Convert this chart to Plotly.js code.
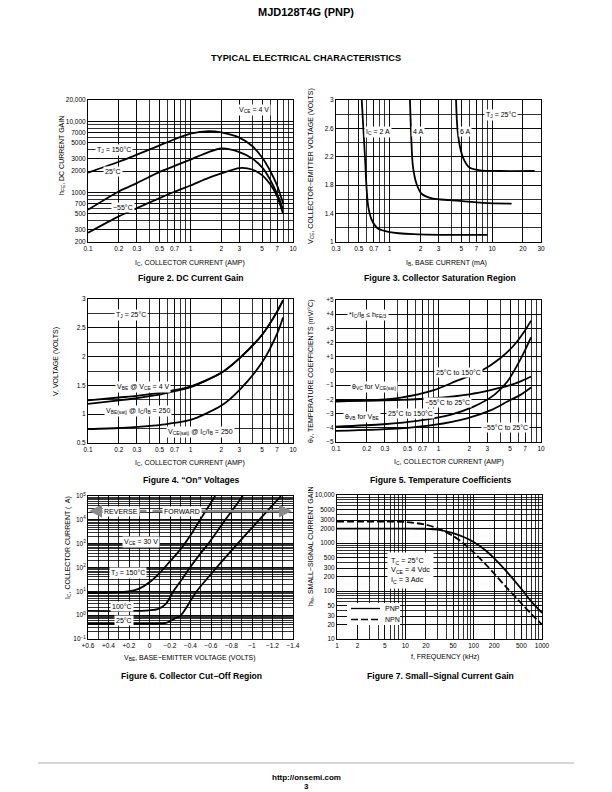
<!DOCTYPE html>
<html><head><meta charset="utf-8">
<script src="https://cdn.plot.ly/plotly-3.0.1.min.js"></script>
<style>html,body{margin:0;padding:0;background:#fff}#chart{width:612px;height:792px}</style>
</head><body><div id="chart"></div>
<script>
// ---------------- DATA ----------------
// Figure 2: DC current gain (hFE vs IC, amps)
const fig2_ic = [0.1,0.2,0.3,0.5,0.7,1,1.5,2,3,4,5,6,7,8];
const fig2_hfe_150 = [1900,2700,3400,4600,5600,6700,7300,7000,5900,4500,3100,2000,1250,700];
const fig2_hfe_25  = [570,1030,1350,1940,2360,2900,3700,4150,3700,3000,2250,1500,950,580];
const fig2_hfe_m55 = [270,460,600,830,1020,1250,1600,1850,2200,2100,1750,1300,880,500];
const fig2_xlabels = [0.1,0.2,0.3,0.5,0.7,1,2,3,5,7,10];
const fig2_ylabels = [200,300,500,700,1000,2000,3000,5000,7000,10000,20000];
const fig2_ytext = ['200','300','500','700','1000','2000','3000','5000','7000','10,000','20,000'];

// Figure 3: collector saturation region (VCE vs IB, mA)
const fig3_ib_2A = [0.535,0.575,0.595,0.62,0.67,0.77,1.0,1.7,3.9,9];
const fig3_vce_2A = [3.0,2.2,1.78,1.49,1.31,1.19,1.14,1.11,1.10,1.10];
const fig3_ib_4A = [1.58,1.63,1.69,1.83,2.05,2.66,3.9,8.2,15.5];
const fig3_vce_4A = [3.0,2.44,2.06,1.82,1.68,1.61,1.59,1.55,1.54];
const fig3_ib_6A = [4.45,4.6,4.95,5.35,6.0,7.6,12,26];
const fig3_vce_6A = [3.0,2.58,2.29,2.15,2.05,2.01,2.0,2.0];
const fig3_xlabels = [0.3,0.5,0.7,1,2,3,5,7,10,20,30];
const fig3_ylabels = [1,1.4,1.8,2.2,2.6,3];

// Figure 4: "On" voltages
const fig4_ic = [0.1,0.2,0.3,0.5,0.7,1,2,3,5,7,8];
const fig4_vbe = [1.24,1.29,1.32,1.37,1.42,1.48,1.72,1.97,2.38,2.78,2.98];
const fig4_vbesat = [1.18,1.24,1.28,1.34,1.40,1.47,1.72,1.97,2.38,2.78,2.98];
const fig4_vcesat = [0.74,0.76,0.78,0.81,0.85,0.9,1.15,1.42,1.9,2.4,2.68];
const fig4_ylabels = [0.5,1,1.5,2,2.5,3];

// Figure 5: temperature coefficients (mV/°C)
const fig5_vc_hot_ic = [0.1,0.2,0.43,0.9,1.5,2.6,4.0,5.5,6.9,8.0];
const fig5_vc_hot = [-2.05,-2.07,-1.87,-1.35,-0.7,0.0,0.9,1.85,2.8,3.55];
const fig5_vc_cold_ic = [0.1,0.43,0.9,2.0,3.3,4.9,6.5,8.0];
const fig5_vc_cold = [-2.15,-2.04,-1.92,-1.64,-1.33,-1.02,-0.69,-0.39];
const fig5_vb_hot_ic = [0.1,0.29,0.62,1.3,2.2,3.5,4.7,5.9,6.9,8.0];
const fig5_vb_hot = [-3.92,-3.75,-3.52,-3.09,-2.51,-1.68,-0.74,0.44,1.38,2.36];
const fig5_vb_cold_ic = [0.1,0.43,0.9,1.9,3.3,4.7,6.3,8.0];
const fig5_vb_cold = [-4.22,-4.04,-3.8,-3.33,-2.74,-2.15,-1.68,-1.16];
const fig5_ylabels = [5,4,3,2,1,0,-1,-2,-3,-4,-5];
const fig5_ytext = ['+5','+4','+3','+2','+1','0','−1','−2','−3','−4','−5'];

// Figure 6: collector cut-off region (IC in µA vs VBE)
const fig6_v_150 = [0.6,0.4,0.2,0.1,0.0,-0.1,-0.2,-0.3,-0.4,-0.5,-0.6,-0.64];
const fig6_i_150 = [8.5,8.7,10,13,24,60,180,560,2240,11200,52500,100000];
const fig6_v_100 = [0.6,0.2,0.0,-0.08,-0.16,-0.233,-0.3,-0.395,-0.5,-0.574,-0.74,-0.91];
const fig6_i_100 = [1.5,1.5,1.6,1.8,3.0,10,25,100,400,1000,10000,100000];
const fig6_v_25 = [0.6,0.2,-0.1,-0.16,-0.24,-0.307,-0.46,-0.655,-0.86,-1.07,-1.283];
const fig6_i_25 = [0.43,0.43,0.44,0.47,0.7,1.0,10,100,1000,10000,100000];
const fig6_xlabels = [0.6,0.4,0.2,0,-0.2,-0.4,-0.6,-0.8,-1,-1.2,-1.4];
const fig6_xtext = ['+0.6','+0.4','+0.2','0','−0.2','−0.4','−0.6','−0.8','−1','−1.2','−1.4'];
const fig6_ylabels = [0.1,1,10,100,1000,10000,100000];
const fig6_ytext = ['10<sup>−1</sup>','10<sup>0</sup>','10<sup>1</sup>','10<sup>2</sup>','10<sup>3</sup>','10<sup>4</sup>','10<sup>5</sup>'];

// Figure 7: small-signal current gain
const fig7_f = [1,2,5,10,20,30,50,70,100,150,200,300,500,700,1000];
const fig7_pnp = [2000,2000,2000,2000,1980,1900,1600,1350,1050,700,480,260,110,60,35];
const fig7_npn = [2800,2800,2800,2750,2400,2000,1400,1000,640,360,230,120,55,33,20];
const fig7_xlabels = [1,2,5,10,20,50,100,200,500,1000];
const fig7_ylabels = [10,20,30,50,100,200,300,500,1000,2000,3000,5000,10000];
const fig7_ytext = ['10','20','30','50','100','200','300','500','1000','2000','3000','5000','10,000'];

// ---------------- HELPERS ----------------
const W = 612, H = 792;
const FONT = 'Liberation Sans, Arial, Helvetica, sans-serif';
const px = x => x / W, py = y => 1 - y / H;

function logGrid(lo, hi) {
  const out = [];
  for (let e = Math.floor(Math.log10(lo)); e <= Math.ceil(Math.log10(hi)); e++) {
    for (let k = 1; k < 10; k++) {
      const v = +(k * Math.pow(10, e)).toPrecision(6);
      if (v >= lo * 0.9999 && v <= hi * 1.0001) out.push(v);
    }
  }
  return out;
}
function linGrid(lo, hi, step) {
  const out = [];
  for (let v = lo; v <= hi + step / 2; v += step) out.push(Math.round(v * 1e6) / 1e6);
  return out;
}
// labelled major ticks + unlabelled minor grid lines
function tk(grid, labVals, labText) {
  return {
    tickmode: 'array', tickvals: labVals, ticktext: labText || labVals.map(String),
    minor: { tickmode: 'array', tickvals: grid, showgrid: true, gridcolor: '#000', gridwidth: 0.8, ticks: '' }
  };
}
function axis(dom, anchor, type, range, ticks) {
  return Object.assign({
    domain: dom, anchor: anchor, type: type, range: range, autorange: false,
    showline: true, mirror: true, linecolor: '#000', linewidth: 1,
    showgrid: true, gridcolor: '#000', gridwidth: 0.8, zeroline: false,
    ticks: '', tickfont: { family: FONT, size: 6.5, color: '#000' },
    fixedrange: true, automargin: false
  }, ticks);
}
const xd = (a, b) => [a / W, b / W];
const yd = (top, bot) => [1 - bot / H, 1 - top / H];
const L = Math.log10;

function line(x, y, xa, ya, extra) {
  return Object.assign({
    x: x, y: y, xaxis: xa, yaxis: ya, mode: 'lines', hoverinfo: 'skip',
    line: { color: '#000', width: 1.8, shape: 'spline', smoothing: 0.8 }
  }, extra || {});
}

// ---------------- TRACES ----------------
const traces = [
  line(fig2_ic, fig2_hfe_150, 'x', 'y', { name: 'TJ = 150°C' }),
  line(fig2_ic, fig2_hfe_25, 'x', 'y', { name: '25°C' }),
  line(fig2_ic, fig2_hfe_m55, 'x', 'y', { name: '−55°C' }),
  line(fig3_ib_2A, fig3_vce_2A, 'x2', 'y2', { name: 'IC = 2 A' }),
  line(fig3_ib_4A, fig3_vce_4A, 'x2', 'y2', { name: '4 A' }),
  line(fig3_ib_6A, fig3_vce_6A, 'x2', 'y2', { name: '6 A' }),
  line(fig4_ic, fig4_vbe, 'x3', 'y3', { name: 'VBE @ VCE = 4 V' }),
  line(fig4_ic, fig4_vbesat, 'x3', 'y3', { name: 'VBE(sat)' }),
  line(fig4_ic, fig4_vcesat, 'x3', 'y3', { name: 'VCE(sat)' }),
  line(fig5_vc_hot_ic, fig5_vc_hot, 'x4', 'y4'),
  line(fig5_vc_cold_ic, fig5_vc_cold, 'x4', 'y4'),
  line(fig5_vb_hot_ic, fig5_vb_hot, 'x4', 'y4'),
  line(fig5_vb_cold_ic, fig5_vb_cold, 'x4', 'y4'),
  line(fig6_v_150, fig6_i_150, 'x5', 'y5'),
  line(fig6_v_100, fig6_i_100, 'x5', 'y5'),
  line(fig6_v_25, fig6_i_25, 'x5', 'y5'),
  line(fig7_f, fig7_pnp, 'x6', 'y6', { name: 'PNP' }),
  line(fig7_f, fig7_npn, 'x6', 'y6', { name: 'NPN', line: { color: '#000', width: 1.8, dash: '7px,3px', shape: 'spline', smoothing: 0.8 } })
];

// ---------------- ANNOTATIONS ----------------
function lab(text, x, y, o) {
  return Object.assign({
    xref: 'paper', yref: 'paper', x: px(x), y: py(y), text: text, showarrow: false,
    font: { family: FONT, size: 7, color: '#000' }, bgcolor: '#fff', borderpad: 1,
    xanchor: 'center', yanchor: 'middle'
  }, o || {});
}
const noBg = { bgcolor: 'rgba(0,0,0,0)' };
const ytitle = (t, x, y) => lab(t, x, y, { textangle: -90, bgcolor: 'rgba(0,0,0,0)' });
const cap = (t, x, y) => lab('<b>' + t + '</b>', x, y, { font: { family: FONT, size: 8.6, color: '#000' }, bgcolor: 'rgba(0,0,0,0)' });

const annotations = [
  // page text
  lab('<b>MJD128T4G (PNP)</b>', 306, 12, { font: { family: FONT, size: 11, color: '#000' }, bgcolor: 'rgba(0,0,0,0)' }),
  lab('<b>TYPICAL ELECTRICAL CHARACTERISTICS</b>', 306, 58, { font: { family: FONT, size: 9.2, color: '#000' }, bgcolor: 'rgba(0,0,0,0)' }),
  lab('<b>http://onsemi.com</b>', 306, 777, { font: { family: FONT, size: 8, color: '#000' }, bgcolor: 'rgba(0,0,0,0)' }),
  lab('<b>3</b>', 306, 786, { font: { family: FONT, size: 8, color: '#000' }, bgcolor: 'rgba(0,0,0,0)' }),

  // captions
  cap('Figure 2. DC Current Gain', 191, 278),
  cap('Figure 3. Collector Saturation Region', 440, 278),
  cap('Figure 4. “On” Voltages', 191, 480),
  cap('Figure 5. Temperature Coefficients', 440, 480),
  cap('Figure 6. Collector Cut−Off Region', 191, 676),
  cap('Figure 7. Small−Signal Current Gain', 440, 676),

  // axis titles
  lab('I<sub>C</sub>, COLLECTOR CURRENT (AMP)', 190, 263, noBg),
  ytitle('h<sub>FE</sub>, DC CURRENT GAIN', 62, 156),
  lab('I<sub>B</sub>, BASE CURRENT (mA)', 446, 263, noBg),
  ytitle('V<sub>CE</sub>, COLLECTOR−EMITTER VOLTAGE (VOLTS)', 311, 166),
  lab('I<sub>C</sub>, COLLECTOR CURRENT (AMP)', 190, 463, noBg),
  ytitle('V, VOLTAGE (VOLTS)', 56, 361),
  lab('I<sub>C</sub>, COLLECTOR CURRENT (AMP)', 449, 462, noBg),
  ytitle('θ<sub>V</sub>, TEMPERATURE COEFFICIENTS (mV/°C)', 311, 371),
  lab('V<sub>BE</sub>, BASE−EMITTER VOLTAGE (VOLTS)', 190, 658, noBg),
  ytitle('I<sub>C</sub>, COLLECTOR CURRENT (  A)', 68, 548),
  lab('f, FREQUENCY (kHz)', 445, 657, noBg),
  ytitle('h<sub>fe</sub>, SMALL−SIGNAL CURRENT GAIN', 311, 547),

  // fig 2 labels
  lab('V<sub>CE</sub> = 4 V', 254, 110),
  lab('T<sub>J</sub> = 150°C', 114, 150),
  lab('25°C', 113, 172),
  lab('−55°C', 123, 207),

  // fig 3 labels
  lab('I<sub>C</sub> = 2 A', 378, 132),
  lab('4 A', 418, 132),
  lab('6 A', 465, 132),
  lab('T<sub>J</sub> = 25°C', 501, 115),

  // fig 4 labels
  lab('T<sub>J</sub> = 25°C', 131, 315),
  lab('V<sub>BE</sub> @ V<sub>CE</sub> = 4 V', 143, 387),
  lab('V<sub>BE(sat)</sub> @ I<sub>C</sub>/I<sub>B</sub> = 250', 138, 411),
  lab('V<sub>CE(sat)</sub> @ I<sub>C</sub>/I<sub>B</sub> = 250', 200, 432),

  // fig 5 labels
  lab('*I<sub>C</sub>/I<sub>B</sub> ≤ h<sub>FE/3</sub>', 368, 315),
  lab('θ<sub>VC</sub> for V<sub>CE(sat)</sub>', 374, 387),
  lab('25°C to 150°C', 458, 372),
  lab('−55°C to 25°C', 448, 402),
  lab('θ<sub>VB</sub> for V<sub>BE</sub>', 362, 417),
  lab('25°C to 150°C', 411, 413),
  lab('−55°C to 25°C', 506, 427),

  // fig 6 arrows + labels
  { xref: 'paper', yref: 'paper', x: px(89), y: py(511), ax: 59, ay: 0, showarrow: true, text: '',
    arrowcolor: '#8a8a8a', arrowwidth: 2.6, arrowhead: 2, arrowsize: 1, standoff: 0 },
  { xref: 'paper', yref: 'paper', x: px(292), y: py(511), ax: -141, ay: 0, showarrow: true, text: '',
    arrowcolor: '#8a8a8a', arrowwidth: 2.6, arrowhead: 2, arrowsize: 1, standoff: 0 },
  lab('REVERSE', 121, 511),
  lab('FORWARD', 182, 511),
  lab('V<sub>CE</sub> = 30 V', 141, 542),
  lab('T<sub>J</sub> = 150°C', 128, 573),
  lab('100°C', 122, 606),
  lab('25°C', 124, 620),

  // fig 7 labels
  lab('T<sub>C</sub> = 25°C<br>V<sub>CE</sub> = 4 Vdc<br>I<sub>C</sub> = 3 Adc', 411, 570,
      { align: 'left', borderpad: 3, font: { family: FONT, size: 7.3, color: '#000' } }),
  lab('PNP', 383, 608.5, { xanchor: 'left', bgcolor: 'rgba(0,0,0,0)' }),
  lab('NPN', 383, 619.5, { xanchor: 'left', bgcolor: 'rgba(0,0,0,0)' })
];

const shapes = [
  { type: 'rect', xref: 'paper', yref: 'paper', x0: px(347), x1: px(400), y0: py(625), y1: py(603),
    fillcolor: '#fff', line: { width: 0 }, layer: 'above' },
  { type: 'line', xref: 'paper', yref: 'paper', x0: px(351), x1: px(380), y0: py(608.5), y1: py(608.5),
    line: { color: '#000', width: 1.3 }, layer: 'above' },
  { type: 'line', xref: 'paper', yref: 'paper', x0: px(351), x1: px(380), y0: py(619.5), y1: py(619.5),
    line: { color: '#000', width: 1.3, dash: '7px,3px' }, layer: 'above' },
  { type: 'line', xref: 'paper', yref: 'paper', x0: px(38), x1: px(574), y0: py(763), y1: py(763),
    line: { color: '#9a9a9a', width: 0.8 } }
];

// ---------------- LAYOUT ----------------
const layout = {
  width: W, height: H, margin: { l: 0, r: 0, t: 0, b: 0 },
  paper_bgcolor: '#fff', plot_bgcolor: '#fff', showlegend: false,
  font: { family: FONT, color: '#000' },
  xaxis:  axis(xd(88, 293), 'y', 'log', [L(0.1), L(10)], tk(logGrid(0.1, 10), fig2_xlabels)),
  yaxis:  axis(yd(100, 242), 'x', 'log', [L(200), L(20000)], tk(logGrid(200, 20000), fig2_ylabels, fig2_ytext)),
  xaxis2: axis(xd(336, 541), 'y2', 'log', [L(0.3), L(30)], tk(logGrid(0.3, 30), fig3_xlabels)),
  yaxis2: axis(yd(100, 242), 'x2', 'linear', [1, 3], tk(linGrid(1, 3, 0.2), fig3_ylabels)),
  xaxis3: axis(xd(88, 293), 'y3', 'log', [L(0.1), L(10)], tk(logGrid(0.1, 10), fig2_xlabels)),
  yaxis3: axis(yd(299, 443), 'x3', 'linear', [0.5, 3], tk(linGrid(0.5, 3, 0.25), fig4_ylabels)),
  xaxis4: axis(xd(336, 541), 'y4', 'log', [L(0.1), L(10)], tk(logGrid(0.1, 10), fig2_xlabels)),
  yaxis4: axis(yd(300, 442), 'x4', 'linear', [-5, 5], tk(linGrid(-5, 5, 1), fig5_ylabels, fig5_ytext)),
  xaxis5: axis(xd(88, 293), 'y5', 'linear', [0.6, -1.4], tk(linGrid(-1.4, 0.6, 0.1), fig6_xlabels, fig6_xtext)),
  yaxis5: axis(yd(496, 639), 'x5', 'log', [L(0.1), L(100000)], tk(logGrid(0.1, 100000), fig6_ylabels, fig6_ytext)),
  xaxis6: axis(xd(337, 542), 'y6', 'log', [L(1), L(1000)], tk(logGrid(1, 1000), fig7_xlabels)),
  yaxis6: axis(yd(495, 639), 'x6', 'log', [L(10), L(10000)], tk(logGrid(10, 10000), fig7_ylabels, fig7_ytext)),
  annotations: annotations,
  shapes: shapes
};

Plotly.newPlot('chart', traces, layout, { staticPlot: true, displayModeBar: false });
</script></body></html>
